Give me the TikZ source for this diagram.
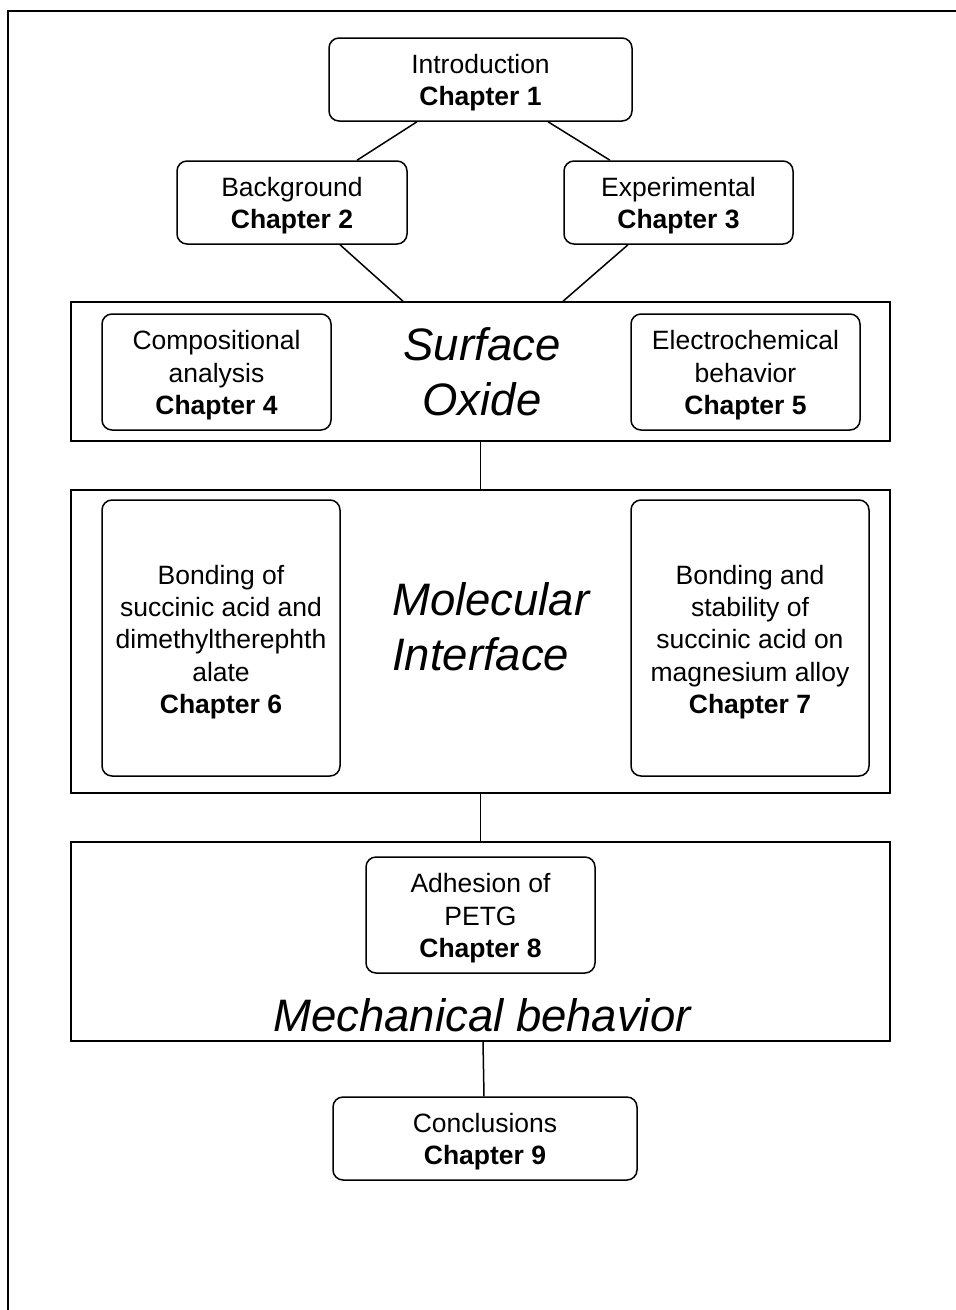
\documentclass[tikz,border=0pt]{standalone}
\usepackage{fontspec}
\setmainfont{Liberation Sans}
\usetikzlibrary{calc}
\newcommand{\dn}{\rule{0pt}{25.5pt}}
\begin{document}
\begin{tikzpicture}[x=1pt,y=-1pt,
  chap/.style={draw, line width=1.5pt, rounded corners=10pt, align=center, inner sep=0pt,
    font=\fontsize{26.5}{32.3}\selectfont},
  group/.style={draw, line width=1.5pt, inner sep=0pt},
  big/.style={inner sep=0pt, font=\fontsize{45.5}{55}\selectfont\itshape},
  link/.style={line width=1.5pt}]
\useasboundingbox (0,0) rectangle (956,1310);
\draw[line width=1.5pt] (8,1320) -- (8,11) -- (966,11);
% groups
\node[group, minimum width=819, minimum height=139] (so) at (480.5,371.5) {};
\node[group, minimum width=819, minimum height=303] (mi) at (480.5,641.5) {};
\node[group, minimum width=819, minimum height=199] (mb) at (480.5,941.5) {};
% chapters
\node[chap, minimum width=303, minimum height=83] (c1) at (480.5,79.5) {\dn Introduction\\\textbf{Chapter 1}};
\node[chap, minimum width=230, minimum height=83] (c2) at (292,202.5) {\dn Background\\\textbf{Chapter 2}};
\node[chap, minimum width=229, minimum height=83] (c3) at (678.5,202.5) {\dn Experimental\\\textbf{Chapter 3}};
\node[chap, minimum width=229, minimum height=116] (c4) at (216.5,372) {\dn Compositional\\analysis\\\textbf{Chapter 4}};
\node[chap, minimum width=229, minimum height=116] (c5) at (745.5,372) {\dn Electrochemical\\behavior\\\textbf{Chapter 5}};
\node[chap, minimum width=238, minimum height=276] (c6) at (221,638) {\rule{0pt}{27pt}Bonding of\\succinic acid and\\dimethyltherephth\\alate\\\textbf{Chapter 6}};
\node[chap, minimum width=238, minimum height=276] (c7) at (750,638) {\rule{0pt}{27pt}Bonding and\\stability of\\succinic acid on\\magnesium alloy\\\textbf{Chapter 7}};
\node[chap, minimum width=229, minimum height=116] (c8) at (480.5,915) {\dn Adhesion of\\PETG\\\textbf{Chapter 8}};
\node[chap, minimum width=304, minimum height=83] (c9) at (485,1138.5) {\dn Conclusions\\\textbf{Chapter 9}};
% group titles
\node[big, align=center] (tso) at (482,372) {Surface\\Oxide};
\node[big, align=left, anchor=west] (tmi) at (392,627) {Molecular\\Interface};
\node[big] (tmb) at (482,1015) {Mechanical behavior};
% links
\draw[link] ($(c1.south)+(-63.5,0)$) -- ($(c2.north)+(65,0)$);
\draw[link] ($(c1.south)+(67.5,0)$) -- ($(c3.north)+(-68.5,0)$);
\draw[link] ($(c2.south)+(48,0)$) -- ($(so.north)+(-77.5,0)$);
\draw[link] ($(c3.south)+(-50.5,0)$) -- ($(so.north)+(82.5,0)$);
\draw[link] (so.south) -- (mi.north);
\draw[link] (mi.south) -- (mb.north);
\draw[link] ($(mb.south)+(2.5,0)$) -- ($(c9.north)+(-1,0)$);
\end{tikzpicture}
\end{document}
